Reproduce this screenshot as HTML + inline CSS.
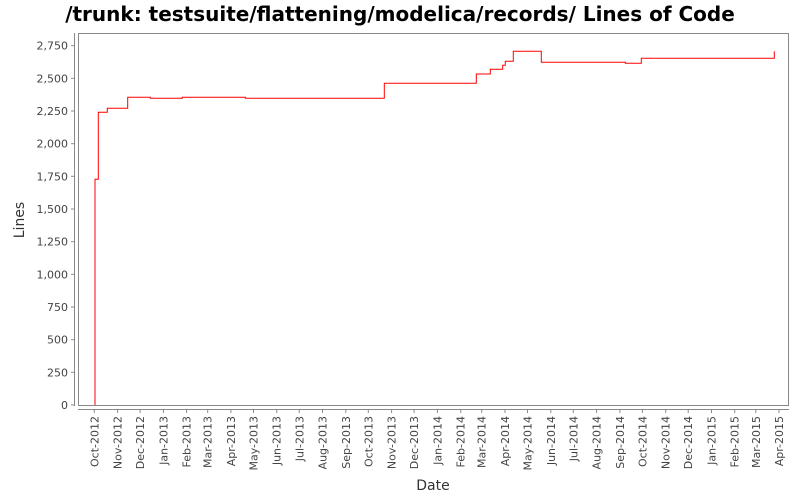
<!DOCTYPE html>
<html><head><style>body{margin:0;background:#fff}svg{display:block}text{font-family:"DejaVu Sans","Liberation Sans",sans-serif}</style></head><body>
<svg width="800" height="500" xmlns="http://www.w3.org/2000/svg">
<rect width="800" height="500" fill="#fff"/>
<text x="400" y="21" text-anchor="middle" font-size="20" font-weight="bold" fill="#000">/trunk: testsuite/flattening/modelica/records/ Lines of Code</text>
<rect x="78.5" y="33.5" width="710" height="372" fill="#fff" stroke="#888" stroke-width="1"/>
<line x1="74.5" y1="33" x2="74.5" y2="406" stroke="#888"/>
<line x1="78" y1="409.5" x2="789" y2="409.5" stroke="#888"/>
<g stroke="#888">
<line x1="71" x2="74" y1="405" y2="405"/><line x1="71" x2="74" y1="372.3" y2="372.3"/><line x1="71" x2="74" y1="339.7" y2="339.7"/><line x1="71" x2="74" y1="307" y2="307"/><line x1="71" x2="74" y1="274.3" y2="274.3"/><line x1="71" x2="74" y1="241.7" y2="241.7"/><line x1="71" x2="74" y1="209" y2="209"/><line x1="71" x2="74" y1="176.3" y2="176.3"/><line x1="71" x2="74" y1="143.7" y2="143.7"/><line x1="71" x2="74" y1="111" y2="111"/><line x1="71" x2="74" y1="78.3" y2="78.3"/><line x1="71" x2="74" y1="45.7" y2="45.7"/>
</g>
<g font-size="11" fill="#444" text-anchor="end">
<text x="68" y="409">0</text><text x="68" y="376.3">250</text><text x="68" y="343.7">500</text><text x="68" y="311">750</text><text x="68" y="278.3">1,000</text><text x="68" y="245.7">1,250</text><text x="68" y="213">1,500</text><text x="68" y="180.3">1,750</text><text x="68" y="147.7">2,000</text><text x="68" y="115">2,250</text><text x="68" y="82.3">2,500</text><text x="68" y="49.7">2,750</text>
</g>
<g stroke="#888">
<line x1="94.3" x2="94.3" y1="410" y2="413"/><line x1="117.6" x2="117.6" y1="410" y2="413"/><line x1="140.1" x2="140.1" y1="410" y2="413"/><line x1="163.4" x2="163.4" y1="410" y2="413"/><line x1="186.6" x2="186.6" y1="410" y2="413"/><line x1="207.7" x2="207.7" y1="410" y2="413"/><line x1="230.9" x2="230.9" y1="410" y2="413"/><line x1="253.5" x2="253.5" y1="410" y2="413"/><line x1="276.7" x2="276.7" y1="410" y2="413"/><line x1="299.3" x2="299.3" y1="410" y2="413"/><line x1="322.5" x2="322.5" y1="410" y2="413"/><line x1="345.8" x2="345.8" y1="410" y2="413"/><line x1="368.3" x2="368.3" y1="410" y2="413"/><line x1="391.6" x2="391.6" y1="410" y2="413"/><line x1="414.1" x2="414.1" y1="410" y2="413"/><line x1="437.4" x2="437.4" y1="410" y2="413"/><line x1="460.7" x2="460.7" y1="410" y2="413"/><line x1="481.7" x2="481.7" y1="410" y2="413"/><line x1="505" x2="505" y1="410" y2="413"/><line x1="527.5" x2="527.5" y1="410" y2="413"/><line x1="550.8" x2="550.8" y1="410" y2="413"/><line x1="573.3" x2="573.3" y1="410" y2="413"/><line x1="596.6" x2="596.6" y1="410" y2="413"/><line x1="619.9" x2="619.9" y1="410" y2="413"/><line x1="642.4" x2="642.4" y1="410" y2="413"/><line x1="665.7" x2="665.7" y1="410" y2="413"/><line x1="688.2" x2="688.2" y1="410" y2="413"/><line x1="711.5" x2="711.5" y1="410" y2="413"/><line x1="734.7" x2="734.7" y1="410" y2="413"/><line x1="755.8" x2="755.8" y1="410" y2="413"/><line x1="779" x2="779" y1="410" y2="413"/>
</g>
<g font-size="11" fill="#444" text-anchor="end">
<text transform="translate(98.3,416) rotate(-90)">Oct-2012</text>
<text transform="translate(121.6,416) rotate(-90)">Nov-2012</text>
<text transform="translate(144.1,416) rotate(-90)">Dec-2012</text>
<text transform="translate(167.4,416) rotate(-90)">Jan-2013</text>
<text transform="translate(190.6,416) rotate(-90)">Feb-2013</text>
<text transform="translate(211.7,416) rotate(-90)">Mar-2013</text>
<text transform="translate(234.9,416) rotate(-90)">Apr-2013</text>
<text transform="translate(257.5,416) rotate(-90)">May-2013</text>
<text transform="translate(280.7,416) rotate(-90)">Jun-2013</text>
<text transform="translate(303.3,416) rotate(-90)">Jul-2013</text>
<text transform="translate(326.5,416) rotate(-90)">Aug-2013</text>
<text transform="translate(349.8,416) rotate(-90)">Sep-2013</text>
<text transform="translate(372.3,416) rotate(-90)">Oct-2013</text>
<text transform="translate(395.6,416) rotate(-90)">Nov-2013</text>
<text transform="translate(418.1,416) rotate(-90)">Dec-2013</text>
<text transform="translate(441.4,416) rotate(-90)">Jan-2014</text>
<text transform="translate(464.7,416) rotate(-90)">Feb-2014</text>
<text transform="translate(485.7,416) rotate(-90)">Mar-2014</text>
<text transform="translate(509,416) rotate(-90)">Apr-2014</text>
<text transform="translate(531.5,416) rotate(-90)">May-2014</text>
<text transform="translate(554.8,416) rotate(-90)">Jun-2014</text>
<text transform="translate(577.3,416) rotate(-90)">Jul-2014</text>
<text transform="translate(600.6,416) rotate(-90)">Aug-2014</text>
<text transform="translate(623.9,416) rotate(-90)">Sep-2014</text>
<text transform="translate(646.4,416) rotate(-90)">Oct-2014</text>
<text transform="translate(669.7,416) rotate(-90)">Nov-2014</text>
<text transform="translate(692.2,416) rotate(-90)">Dec-2014</text>
<text transform="translate(715.5,416) rotate(-90)">Jan-2015</text>
<text transform="translate(738.7,416) rotate(-90)">Feb-2015</text>
<text transform="translate(759.8,416) rotate(-90)">Mar-2015</text>
<text transform="translate(783,416) rotate(-90)">Apr-2015</text>
</g>
<text x="24" y="220" font-size="14" fill="#333" text-anchor="middle" transform="rotate(-90 24 220)">Lines</text>
<text x="433" y="490" font-size="14" fill="#333" text-anchor="middle">Date</text>
<polyline fill="none" stroke="#f00" stroke-width="1" points="95,405 95,179.3 98.3,179.3 98.3,112.3 107.3,112.3 107.3,108.3 127.7,108.3 127.7,97.3 150.3,97.3 150.3,98.3 182.3,98.3 182.3,97.3 245.3,97.3 245.3,98.3 384.3,98.3 384.3,83.3 476.3,83.3 476.3,74 490.3,74 490.3,69.3 502.7,69.3 502.7,65.3 505.3,65.3 505.3,61.3 513.3,61.3 513.3,51.3 541.3,51.3 541.3,62.3 625.3,62.3 625.3,63.3 641.3,63.3 641.3,58.3 774.3,58.3 774.3,51.3"/>
</svg></body></html>
